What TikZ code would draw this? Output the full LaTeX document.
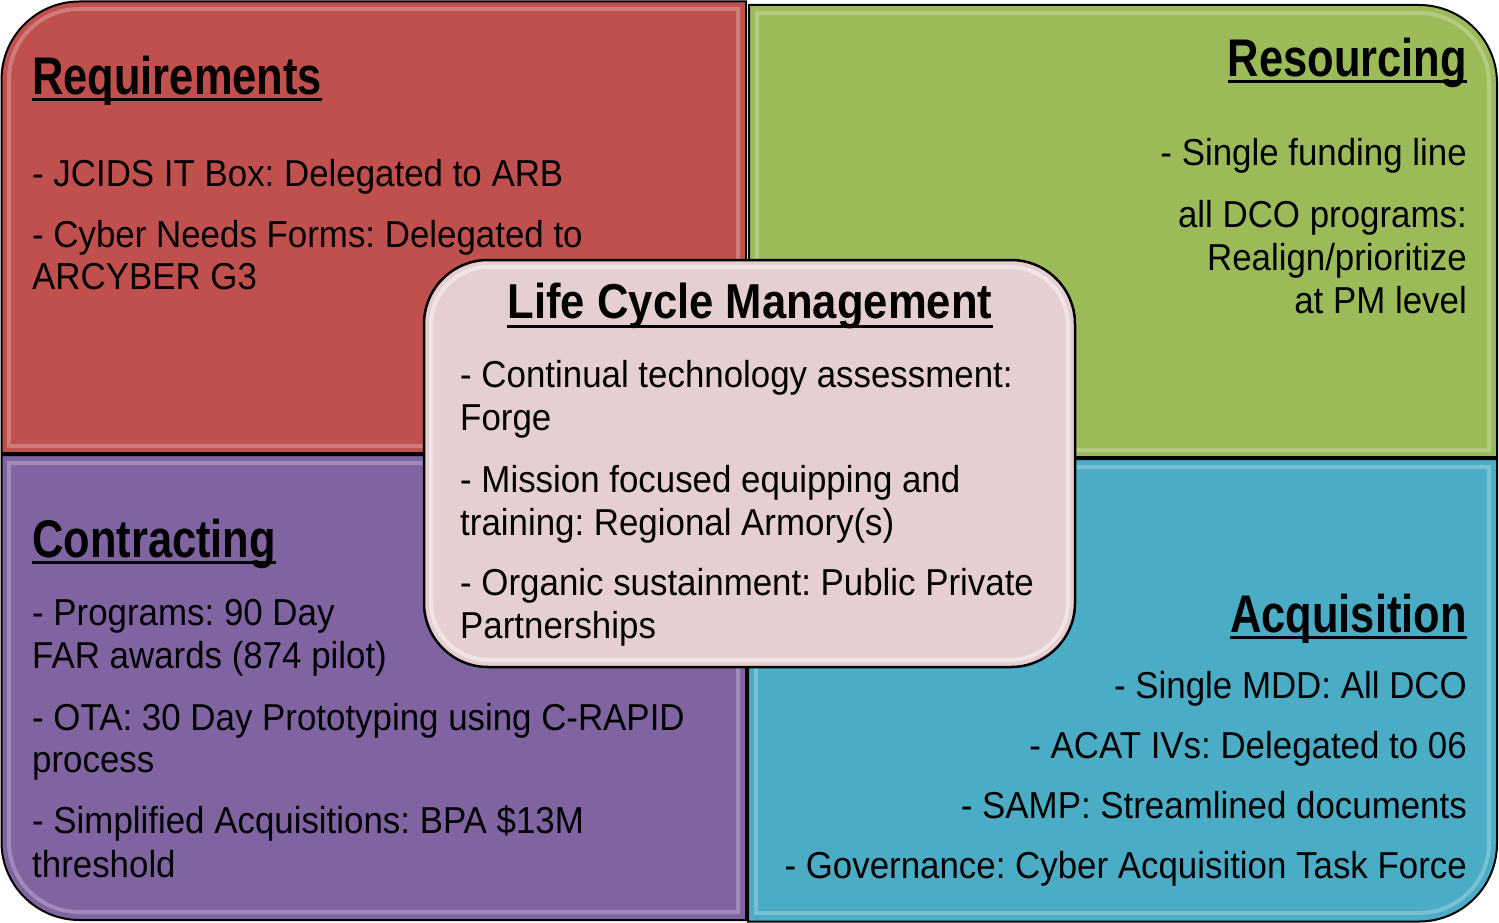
\documentclass[tikz,border=0pt]{standalone}
\usepackage{fontspec}
\setmainfont{Liberation Sans}
\newfontfamily\bodyfont[FakeStretch=0.93]{Liberation Sans}
\newfontfamily\headfont[FakeStretch=0.82]{Liberation Sans}
\newfontfamily\lcmfont[FakeStretch=0.89]{Liberation Sans}
\frenchspacing
\definecolor{qred}{HTML}{C0504D}
\definecolor{qgreen}{HTML}{9BBB59}
\definecolor{qpurple}{HTML}{8064A2}
\definecolor{qblue}{HTML}{4BACC6}
\definecolor{lcmfill}{HTML}{E6CFD0}
\tikzset{
  quad/.style={draw=black, line width=2pt},
  bevel/.style={line width=4pt, draw=white, draw opacity=0.25},
  body/.style={font=\bodyfont\frenchspacing\fontsize{37.5}{43}\selectfont, inner sep=0pt, text=black},
  head/.style={font=\headfont\bfseries\fontsize{53}{60}\selectfont, inner sep=0pt, text=black},
  lcmhead/.style={font=\lcmfont\bfseries\fontsize{49}{56}\selectfont, inner sep=0pt, text=black},
  uline/.style={line width=3pt, draw=black}
}
\begin{document}
\begin{tikzpicture}[x=1pt,y=-1pt]
\useasboundingbox (0,0) rectangle (1499,923);
% quadrants
\filldraw[quad, fill=qred] (746,453) -- (1.5,453) [rounded corners=78pt] -- (1.5,1.5) [sharp corners] -- (746,1.5) -- cycle;
\draw[bevel] (738,446) -- (9,446) [rounded corners=70pt] -- (9,9) [sharp corners] -- (738,9) -- cycle;
\filldraw[quad, fill=qgreen] (749,457) -- (749,5) [rounded corners=78pt] -- (1497,5) [sharp corners] -- (1497,457) -- cycle;
\draw[bevel] (757,450) -- (757,13) [rounded corners=70pt] -- (1489,13) [sharp corners] -- (1489,450) -- cycle;
\filldraw[quad, fill=qpurple] (746,455) -- (1.5,455) [rounded corners=78pt] -- (1.5,920) [sharp corners] -- (746,920) -- cycle;
\draw[bevel] (738,463) -- (9,463) [rounded corners=70pt] -- (9,912) [sharp corners] -- (738,912) -- cycle;
\filldraw[quad, fill=qblue] (748,459) -- (1497,459) [rounded corners=78pt] -- (1497,921.5) [sharp corners] -- (748,921.5) -- cycle;
\draw[bevel] (756,467) -- (1489,467) [rounded corners=70pt] -- (1489,913) [sharp corners] -- (756,913) -- cycle;
% centre box
\filldraw[fill=lcmfill, draw=black, line width=2.5pt, rounded corners=64pt] (424,260) rectangle (1075,667);
\draw[line width=4pt, draw=white, draw opacity=0.45, rounded corners=58pt] (431,267) rectangle (1068,660);

% Requirements
\node[head, anchor=base west] (reqh) at (32,95) {Requirements};
\draw[uline] ([yshift=-5pt]reqh.base west) -- ([yshift=-5pt]reqh.base east);
\node[body, anchor=base west] (req1) at (32,186) {- JCIDS IT Box: Delegated to ARB};
\node[body, anchor=base west] (req2) at (32,247) {- Cyber Needs Forms: Delegated to};
\node[body, anchor=base west] (req3) at (32,289) {ARCYBER G3};

% Resourcing
\node[head, anchor=base east] (resh) at (1467,77) {Resourcing};
\draw[uline] ([yshift=-5pt]resh.base west) -- ([yshift=-5pt]resh.base east);
\node[body, anchor=base east] (res1) at (1467,165) {- Single funding line};
\node[body, anchor=base east] (res2) at (1467,227) {all DCO programs:};
\node[body, anchor=base east] (res3) at (1467,270) {Realign/prioritize};
\node[body, anchor=base east] (res4) at (1467,313) {at PM level};

% Contracting
\node[head, anchor=base west] (conh) at (32,557) {Contracting};
\draw[uline] ([yshift=-5pt]conh.base west) -- ([yshift=-5pt]conh.base east);
\node[body, anchor=base west] (con1) at (32,625) {- Programs: 90 Day};
\node[body, anchor=base west] (con2) at (32,668) {FAR awards (874 pilot)};
\node[body, anchor=base west] (con3) at (32,730) {- OTA: 30 Day Prototyping using C-RAPID};
\node[body, anchor=base west] (con4) at (32,772) {process};
\node[body, anchor=base west] (con5) at (32,833) {- Simplified Acquisitions: BPA \$13M};
\node[body, anchor=base west] (con6) at (32,877) {threshold};

% Acquisition
\node[head, anchor=base east] (acqh) at (1467,632) {Acquisition};
\draw[uline] ([yshift=-5pt]acqh.base west) -- ([yshift=-5pt]acqh.base east);
\node[body, anchor=base east] (acq1) at (1467,698) {- Single MDD: All DCO};
\node[body, anchor=base east] (acq2) at (1467,758) {- ACAT IVs: Delegated to 06};
\node[body, anchor=base east] (acq3) at (1467,818) {- SAMP: Streamlined documents};
\node[body, anchor=base east] (acq4) at (1467,878) {- Governance: Cyber Acquisition Task Force};

% Life Cycle Management
\node[lcmhead, anchor=base] (lcmh) at (750,318) {Life Cycle Management};
\draw[uline] ([yshift=-8pt]lcmh.base west) -- ([yshift=-8pt]lcmh.base east);
\node[body, anchor=base west] (lcm1) at (460,387) {- Continual technology assessment:};
\node[body, anchor=base west] (lcm2) at (460,430) {Forge};
\node[body, anchor=base west] (lcm3) at (460,492) {- Mission focused equipping and};
\node[body, anchor=base west] (lcm4) at (460,535) {training: Regional Armory(s)};
\node[body, anchor=base west] (lcm5) at (460,595) {- Organic sustainment: Public Private};
\node[body, anchor=base west] (lcm6) at (460,638) {Partnerships};
\end{tikzpicture}
\end{document}
